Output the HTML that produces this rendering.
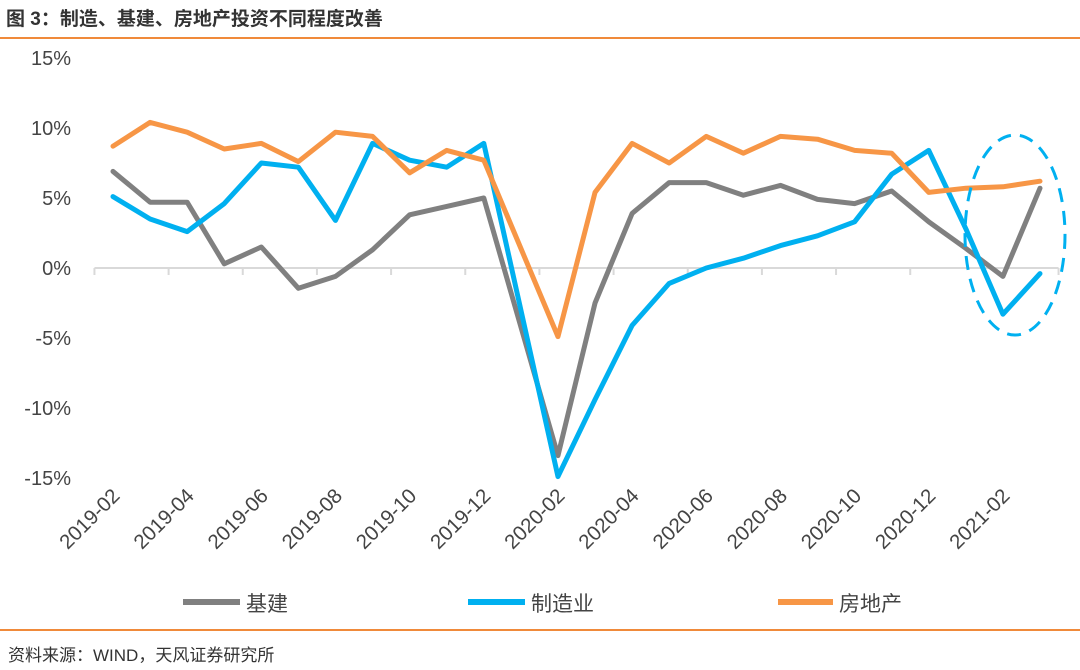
<!DOCTYPE html>
<html><head><meta charset="utf-8"><style>
body{margin:0;background:#fff;}
svg{display:block;font-family:"Liberation Sans","Noto Sans CJK SC",sans-serif;}
</style></head><body>
<svg id="c" width="1080" height="670">
<text x="6" y="25" font-size="19" font-weight="bold" fill="#333">图 3：制造、基建、房地产投资不同程度改善</text>
<line x1="0" y1="38" x2="1080" y2="38" stroke="#f08a3a" stroke-width="2"/>
<line x1="0" y1="630" x2="1080" y2="630" stroke="#f08a3a" stroke-width="2"/>
<text x="8" y="661" font-size="17" fill="#333">资料来源：WIND，天风证券研究所</text>
<g id="plot"></g>
<g>
<g><line x1="183" y1="602" x2="240" y2="602" stroke="#808080" stroke-width="6"/><text x="246" y="611" font-size="21" fill="#444">基建</text></g>
<g><line x1="468" y1="602" x2="525" y2="602" stroke="#00b0f0" stroke-width="6"/><text x="531" y="611" font-size="21" fill="#444">制造业</text></g>
<g><line x1="778" y1="602" x2="833" y2="602" stroke="#f79646" stroke-width="6"/><text x="839" y="611" font-size="21" fill="#444">房地产</text></g>
</g>
</svg>
<script>
const categories=["2019-02","2019-03","2019-04","2019-05","2019-06","2019-07","2019-08","2019-09","2019-10","2019-11","2019-12","2020-01","2020-02","2020-03","2020-04","2020-05","2020-06","2020-07","2020-08","2020-09","2020-10","2020-11","2020-12","2021-01","2021-02","2021-03"];
const infra=[6.9,4.7,4.7,0.3,1.5,-1.45,-0.6,1.3,3.8,4.4,5.0,-4.2,-13.4,-2.5,3.9,6.1,6.1,5.2,5.9,4.9,4.6,5.5,3.3,1.4,-0.6,5.7];
const manuf=[5.1,3.5,2.6,4.6,7.5,7.2,3.4,8.9,7.7,7.2,8.9,-3.0,-14.9,-9.4,-4.1,-1.1,0.0,0.7,1.6,2.3,3.3,6.7,8.4,2.8,-3.3,-0.4];
const realty=[8.7,10.4,9.7,8.5,8.9,7.6,9.7,9.4,6.8,8.4,7.7,1.4,-4.9,5.4,8.9,7.5,9.4,8.2,9.4,9.2,8.4,8.2,5.4,5.7,5.8,6.2];
const yTicks=[15,10,5,0,-5,-10,-15];
const ns="http://www.w3.org/2000/svg";
const g=document.getElementById("plot");
const X0=113,STEP=37.08,Y0=268,PX=14;
function xs(i){return X0+i*STEP;}
function ys(v){return Y0-v*PX;}
function el(t,a){const e=document.createElementNS(ns,t);for(const k in a)e.setAttribute(k,a[k]);g.appendChild(e);return e;}
yTicks.forEach(v=>{
 const t=el("text",{x:71,y:ys(v)+7,"text-anchor":"end","font-size":20,fill:"#444"});
 
 
 t.textContent=v+"%";
});
const ax=el("line",{x1:xs(0)-STEP/2,y1:Y0,x2:xs(categories.length-1)+STEP/2,y2:Y0,stroke:"#d9d9d9","stroke-width":2});


for(let i=0;i<=categories.length;i+=2){
 const tk=el("line",{x1:xs(i)-STEP/2,y1:Y0,x2:xs(i)-STEP/2,y2:Y0+7,stroke:"#d9d9d9","stroke-width":2});
 
 
}
categories.forEach((c,i)=>{
 if(i%2)return;
 const x=xs(i)+8,y=497;
 const t=el("text",{x:x,y:y,"text-anchor":"end","font-size":20.5,fill:"#444",transform:`rotate(-45 ${x} ${y})`});
 
 
 t.textContent=c;
});
function line(arr,color,name){
 const p=el("polyline",{points:arr.map((v,i)=>xs(i)+","+ys(v)).join(" "),fill:"none",stroke:color,"stroke-width":5,"stroke-linejoin":"round","stroke-linecap":"round"});
 
 
}
line(infra,"#808080","infrastructure-line");
line(manuf,"#00b0f0","manufacturing-line");
line(realty,"#f79646","real-estate-line");
const e=el("ellipse",{cx:1015,cy:235,rx:50,ry:100,fill:"none",stroke:"#00b0f0","stroke-width":3,"stroke-dasharray":"14 9"});


</script>
</body></html>
